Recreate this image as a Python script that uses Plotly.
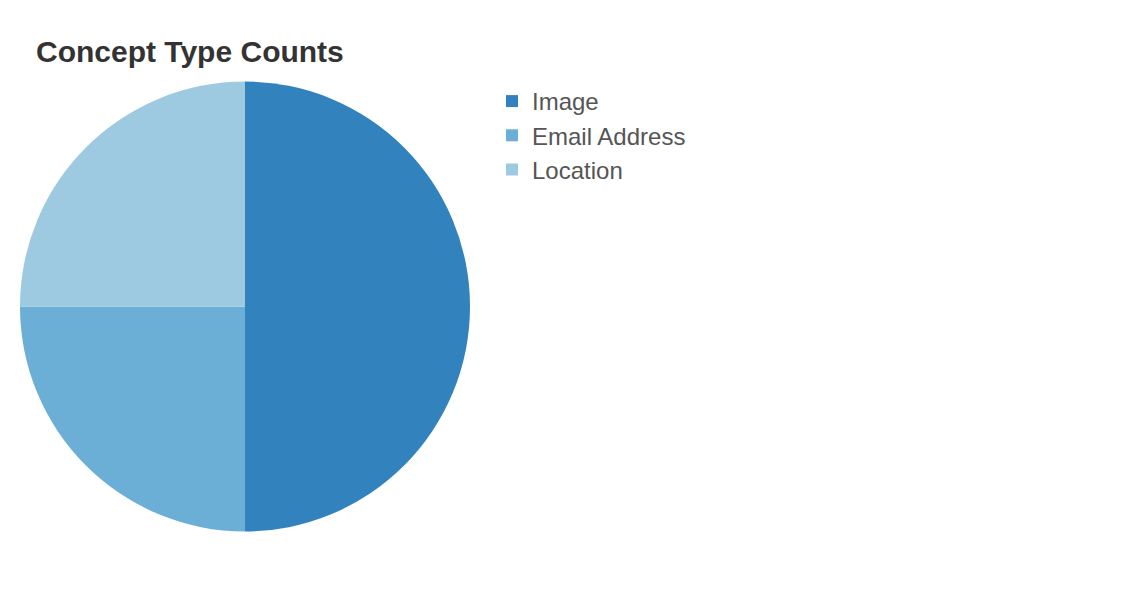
import plotly.graph_objects as go

labels = ["Image", "Email Address", "Location"]
values = [2, 1, 1]
colors = ["#3182bd", "#6baed6", "#9ecae1"]

W, H = 1125, 600
OFF = 8  # default page body margin

fig = go.Figure(go.Pie(
    labels=labels, values=values, sort=False, direction="clockwise", rotation=0,
    marker=dict(colors=colors, line=dict(width=0)),
    textinfo="none", hoverinfo="label+value+percent",
    domain=dict(x=[(20 - OFF) / W, (470 - OFF) / W],
                y=[1 - (532 - OFF) / H, 1 - (81 - OFF) / H]),
))

fig.update_layout(
    width=W, height=H,
    margin=dict(l=0, r=0, t=0, b=0),
    paper_bgcolor="white", plot_bgcolor="white",
    font=dict(family="Liberation Sans, Arial, sans-serif", color="#555555"),
    title=dict(text="<b>Concept Type Counts</b>", x=(36 - OFF) / W, xanchor="left",
               y=1 - (51 - OFF) / H, yanchor="middle",
               font=dict(size=30, color="#333333", family="Liberation Sans, Arial, sans-serif")),
    legend=dict(x=(492 - OFF) / W, xanchor="left", y=1 - (79 - OFF) / H, yanchor="top",
                font=dict(size=24, color="#555555"), tracegroupgap=0,
                bgcolor="rgba(0,0,0,0)"),
)

fig.write_html("out.html")
